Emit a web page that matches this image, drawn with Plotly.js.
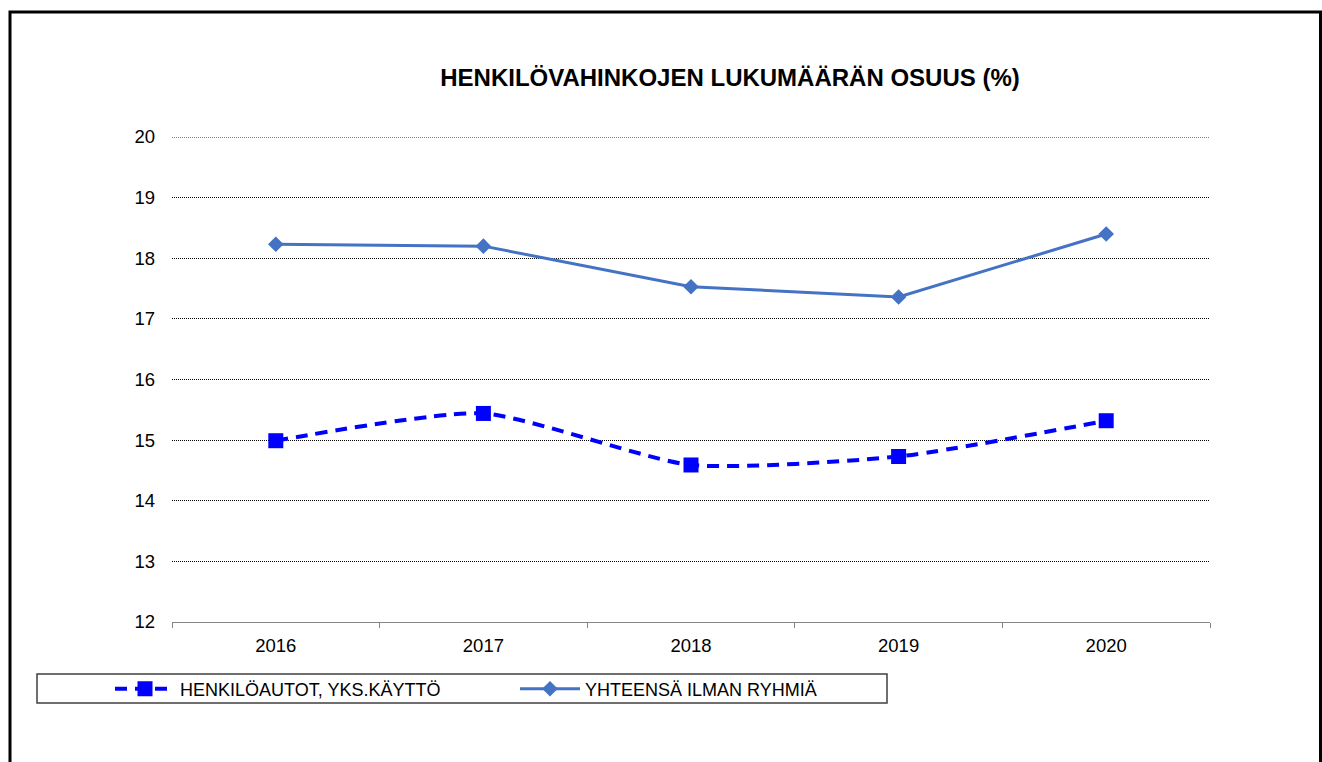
<!DOCTYPE html>
<html>
<head>
<meta charset="utf-8">
<script src="https://cdn.plot.ly/plotly-3.0.1.min.js"></script>
<style>
html,body{margin:0;padding:0;background:#fff;}
#chart{width:1322px;height:762px;}
</style>
</head>
<body>
<div id="chart"></div>
<script>
const years = ['2016', '2017', '2018', '2019', '2020'];
const henkiloautot = [14.99, 15.44, 14.59, 14.73, 15.32];
const yhteensa = [18.23, 18.20, 17.53, 17.36, 18.40];
const yTicks = [12, 13, 14, 15, 16, 17, 18, 19, 20];

const W = 1322, H = 762;
const L = 172, R = 112, T = 137, B = 140;
const pw = W - L - R, ph = H - T - B;
const px = v => (v - L) / pw;
const py = v => (H - B - v) / ph;

const font = '"Liberation Sans", Arial, sans-serif';

const traces = [
  {
    x: years, y: henkiloautot, name: 'HENKILÖAUTOT, YKS.KÄYTTÖ',
    type: 'scatter', mode: 'lines+markers',
    line: {color: '#0000FF', width: 4, dash: '12px,8px', shape: 'spline', smoothing: 0.6},
    marker: {symbol: 'square', size: 15, color: '#0000FF'}
  },
  {
    x: years, y: yhteensa, name: 'YHTEENSÄ ILMAN RYHMIÄ',
    type: 'scatter', mode: 'lines+markers',
    line: {color: '#4472C4', width: 3},
    marker: {symbol: 'diamond', size: 12, color: '#4472C4'}
  }
];

const layout = {
  width: W, height: H,
  margin: {l: L, r: R, t: T, b: B, pad: 0},
  paper_bgcolor: '#fff', plot_bgcolor: '#fff',
  font: {family: font, color: '#000', size: 16},
  showlegend: true,
  title: {
    text: '<b>HENKILÖVAHINKOJEN LUKUMÄÄRÄN OSUUS (%)</b>',
    x: 730 / W, xanchor: 'center', xref: 'container',
    y: 1 - 78 / H, yanchor: 'middle', yref: 'container',
    font: {family: font, size: 24, color: '#000'}
  },
  xaxis: {
    type: 'category', range: [-0.5, 4.5],
    showgrid: false, zeroline: false,
    showline: true, linecolor: '#868686', linewidth: 1,
    ticks: 'outside', tickson: 'boundaries', ticklen: 5, tickcolor: '#868686', tickwidth: 1,
    ticklabelstandoff: 7,
    tickfont: {family: font, size: 18.5, color: '#000'}
  },
  yaxis: {
    range: [12, 20], tickvals: yTicks, ticktext: yTicks.map(String),
    showgrid: true, gridcolor: '#000', gridwidth: 1, griddash: '1px,1px',
    zeroline: false, showline: false, ticks: '',
    ticklabelstandoff: 16,
    tickfont: {family: font, size: 18.5, color: '#000'}
  },
  legend: {
    orientation: 'h', x: px(110), xanchor: 'left', y: py(689), yanchor: 'middle',
    bgcolor: 'rgba(0,0,0,0)', borderwidth: 0,
    entrywidth: 330, entrywidthmode: 'pixels', itemwidth: 60,
    font: {family: font, size: 18, color: '#000'}
  },
  shapes: [
    {type: 'line', xref: 'paper', yref: 'y', x0: 0, x1: 1, y0: yTicks[yTicks.length - 1], y1: yTicks[yTicks.length - 1],
     line: {color: '#000', width: 1, dash: '1px,1px'}, layer: 'below'},
    {type: 'rect', xref: 'paper', yref: 'paper',
     x0: px(10), x1: px(1320.5), y0: py(12), y1: py(775),
     line: {color: '#000', width: 3}, fillcolor: 'rgba(0,0,0,0)', layer: 'below'},
    {type: 'rect', xref: 'paper', yref: 'paper',
     x0: px(37), x1: px(887), y0: py(674), y1: py(703),
     line: {color: '#404040', width: 1.5}, fillcolor: 'rgba(0,0,0,0)', layer: 'below'}
  ]
};

Plotly.newPlot('chart', traces, layout, {displayModeBar: false, staticPlot: true});
</script>
</body>
</html>
